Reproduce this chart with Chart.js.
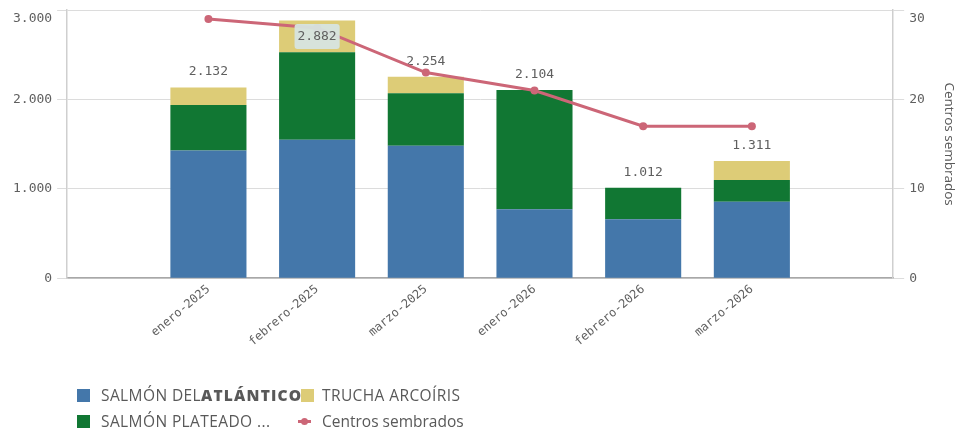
<!DOCTYPE html>
<html>
<head>
<meta charset="utf-8">
<script src="https://cdn.jsdelivr.net/npm/chart.js@4.4.1/dist/chart.umd.min.js"></script>
<style>
  html, body { margin: 0; padding: 0; background: #ffffff; }
  #wrap { position: relative; width: 957px; height: 439px; overflow: hidden; }
  #c { position: absolute; left: 0; top: 0; }
  .lg { position: absolute; font-family: 'Open Sans', sans-serif; font-size: 15.5px; color: #595959; white-space: nowrap; line-height: 20px; height: 20px; }
  .caps { letter-spacing: 0.4px; }
  .sw { position: absolute; width: 13px; height: 13px; }
  .ln { position: absolute; height: 3px; background: #cc6677; }
  .dot { position: absolute; width: 7px; height: 7px; border-radius: 50%; background: #cc6677; }
</style>
</head>
<body>
<div id="wrap">
  <canvas id="c" width="957" height="439"></canvas>
  <div class="lg caps" style="left:101px;top:385px">SALMÓN DEL<b style="font-weight:800;letter-spacing:1.2px">ATLÁNTICO</b></div>
  <div class="sw" style="left:77px;top:389px;background:#4477aa"></div>
  <div class="sw" style="left:301px;top:389px;background:#ddcc77"></div>
  <div class="lg caps" style="left:322px;top:385px">TRUCHA ARCOÍRIS</div>
  <div class="sw" style="left:77px;top:415px;background:#117733"></div>
  <div class="lg caps" style="left:101px;top:411px">SALMÓN PLATEADO ...</div>
  <div class="ln" style="left:298px;top:420px;width:13px"></div>
  <div class="dot" style="left:301px;top:418px"></div>
  <div class="lg" style="left:322px;top:411px">Centros sembrados</div>
</div>
<script>
const categories = ['enero-2025', 'febrero-2025', 'marzo-2025', 'enero-2026', 'febrero-2026', 'marzo-2026'];
const salmonAtlantico = [1428, 1549, 1481, 773, 660, 855];
const salmonPlateado = [510, 978, 589, 1331, 352, 244];
const truchaArcoiris = [194, 355, 184, 0, 0, 212];
const centrosSembrados = [29, 28, 23, 21, 17, 17];
const leftTicks = [0, 1000, 2000, 3000];
const rightTicks = [0, 10, 20, 30];

const fmt = (v) => String(v).replace(/\B(?=(\d{3})+(?!\d))/g, '.');
const toPoints = (arr) => arr.map((v, i) => ({ x: i, y: v }));
const totals = categories.map((_, i) => salmonAtlantico[i] + salmonPlateado[i] + truchaArcoiris[i]);

const MONO = "'DejaVu Sans Mono', monospace";
const TXT = '#5f5f5f';

function drawTotals(chart, withBox) {
  const ctx = chart.ctx;
  const xs = chart.scales.x, ys = chart.scales.y;
  const area = chart.chartArea;
  ctx.save();
  ctx.font = '13px ' + MONO;
  ctx.textAlign = 'center';
  ctx.textBaseline = 'middle';
  totals.forEach((t, i) => {
    const px = xs.getPixelForValue(i);
    const top = ys.getPixelForValue(t);
    const label = fmt(t);
    const inside = top - 24 < area.top;
    if (inside !== withBox) return;
    if (inside) {
      const cy = top + 16;
      const w = ctx.measureText(label).width + 6;
      ctx.fillStyle = 'rgba(214,228,224,0.95)';
      const bx = px - w / 2, by = cy - 12.5, bw = w, bh = 25, r = 3;
      ctx.beginPath();
      ctx.moveTo(bx + r, by);
      ctx.arcTo(bx + bw, by, bx + bw, by + bh, r);
      ctx.arcTo(bx + bw, by + bh, bx, by + bh, r);
      ctx.arcTo(bx, by + bh, bx, by, r);
      ctx.arcTo(bx, by, bx + bw, by, r);
      ctx.closePath();
      ctx.fill();
      ctx.fillStyle = TXT;
      ctx.fillText(label, px, cy);
    } else {
      ctx.fillStyle = TXT;
      ctx.fillText(label, px, top - 15.5);
    }
  });
  ctx.restore();
}

const totalsPlugin = {
  id: 'totals',
  beforeDatasetDraw(chart, args) {
    if (args.meta.type === 'line') drawTotals(chart, false);
  },
  afterDatasetsDraw(chart) {
    drawTotals(chart, true);
  }
};

const topTwoLine = (maxV) => (v) => (v === maxV ? ['', fmt(v)] : fmt(v));
const tickFont = (maxV) => (c) => ({ family: MONO, size: 13, lineHeight: (c.tick && c.tick.value === maxV) ? 1.4 : 1.2 });

new Chart(document.getElementById('c'), {
  type: 'bar',
  data: {
    datasets: [
      { type: 'bar', label: 'SALMÓN DEL ATLÁNTICO', data: toPoints(salmonAtlantico), backgroundColor: '#4477aa', stack: 's', order: 1, yAxisID: 'y' },
      { type: 'bar', label: 'SALMÓN PLATEADO (COHO)', data: toPoints(salmonPlateado), backgroundColor: '#117733', stack: 's', order: 1, yAxisID: 'y' },
      { type: 'bar', label: 'TRUCHA ARCOÍRIS', data: toPoints(truchaArcoiris), backgroundColor: '#ddcc77', stack: 's', order: 1, yAxisID: 'y' },
      { type: 'line', label: 'Centros sembrados', data: toPoints(centrosSembrados), borderColor: '#cc6677', backgroundColor: '#cc6677',
        borderWidth: 3, pointRadius: 4, pointHoverRadius: 4, pointBorderWidth: 0, tension: 0, order: 0, yAxisID: 'y1' }
    ]
  },
  options: {
    responsive: false,
    animation: false,
    barPercentage: 0.7,
    categoryPercentage: 1.0,
    layout: { padding: { left: 8, right: 0, top: 10, bottom: 86 } },
    plugins: { legend: { display: false }, tooltip: { enabled: false } },
    scales: {
      x: {
        type: 'linear',
        stacked: true,
        offset: false,
        bounds: 'data',
        min: -1.3,
        max: 6.3,
        afterBuildTicks: (s) => { s.ticks = categories.map((_, i) => ({ value: i })); },
        afterDataLimits: (s) => { s.min = -1.3; s.max = 6.3; },
        grid: { display: false, drawTicks: false, tickLength: 0 },
        border: { display: true, color: '#a8a8a8', width: 1.5 },
        ticks: {
          autoSkip: false,
          stepSize: 1,
          minRotation: 40,
          maxRotation: 40,
          padding: 4,
          color: TXT,
          font: { family: MONO, size: 12 },
          callback: (v) => categories[v] !== undefined ? categories[v] : ''
        }
      },
      y: {
        type: 'linear',
        position: 'left',
        stacked: true,
        min: 0,
        max: 3000,
        afterBuildTicks: (s) => { s.ticks = leftTicks.map((v) => ({ value: v })); },
        afterFit: (s) => { s.paddingTop = 0; },
        grid: { color: '#dcdcdc', tickColor: '#dcdcdc', tickLength: 10, lineWidth: 1 },
        border: { display: true, color: '#cfcfcf', width: 1.5 },
        ticks: { padding: 5, color: TXT, font: tickFont(3000), callback: topTwoLine(3000) }
      },
      y1: {
        type: 'linear',
        position: 'right',
        min: 0,
        max: 30,
        afterBuildTicks: (s) => { s.ticks = rightTicks.map((v) => ({ value: v })); },
        afterFit: (s) => { s.paddingTop = 0; },
        grid: { drawOnChartArea: false, color: '#dcdcdc', tickColor: '#dcdcdc', tickLength: 11 },
        border: { display: true, color: '#cfcfcf', width: 1.5 },
        ticks: { padding: 5, color: TXT, font: tickFont(30), callback: topTwoLine(30) },
        title: { display: true, text: 'Centros sembrados', color: '#595959', font: { family: "'Open Sans', sans-serif", size: 13.5 }, padding: { top: 0, bottom: 11 } }
      }
    }
  },
  plugins: [totalsPlugin]
});
</script>
</body>
</html>
